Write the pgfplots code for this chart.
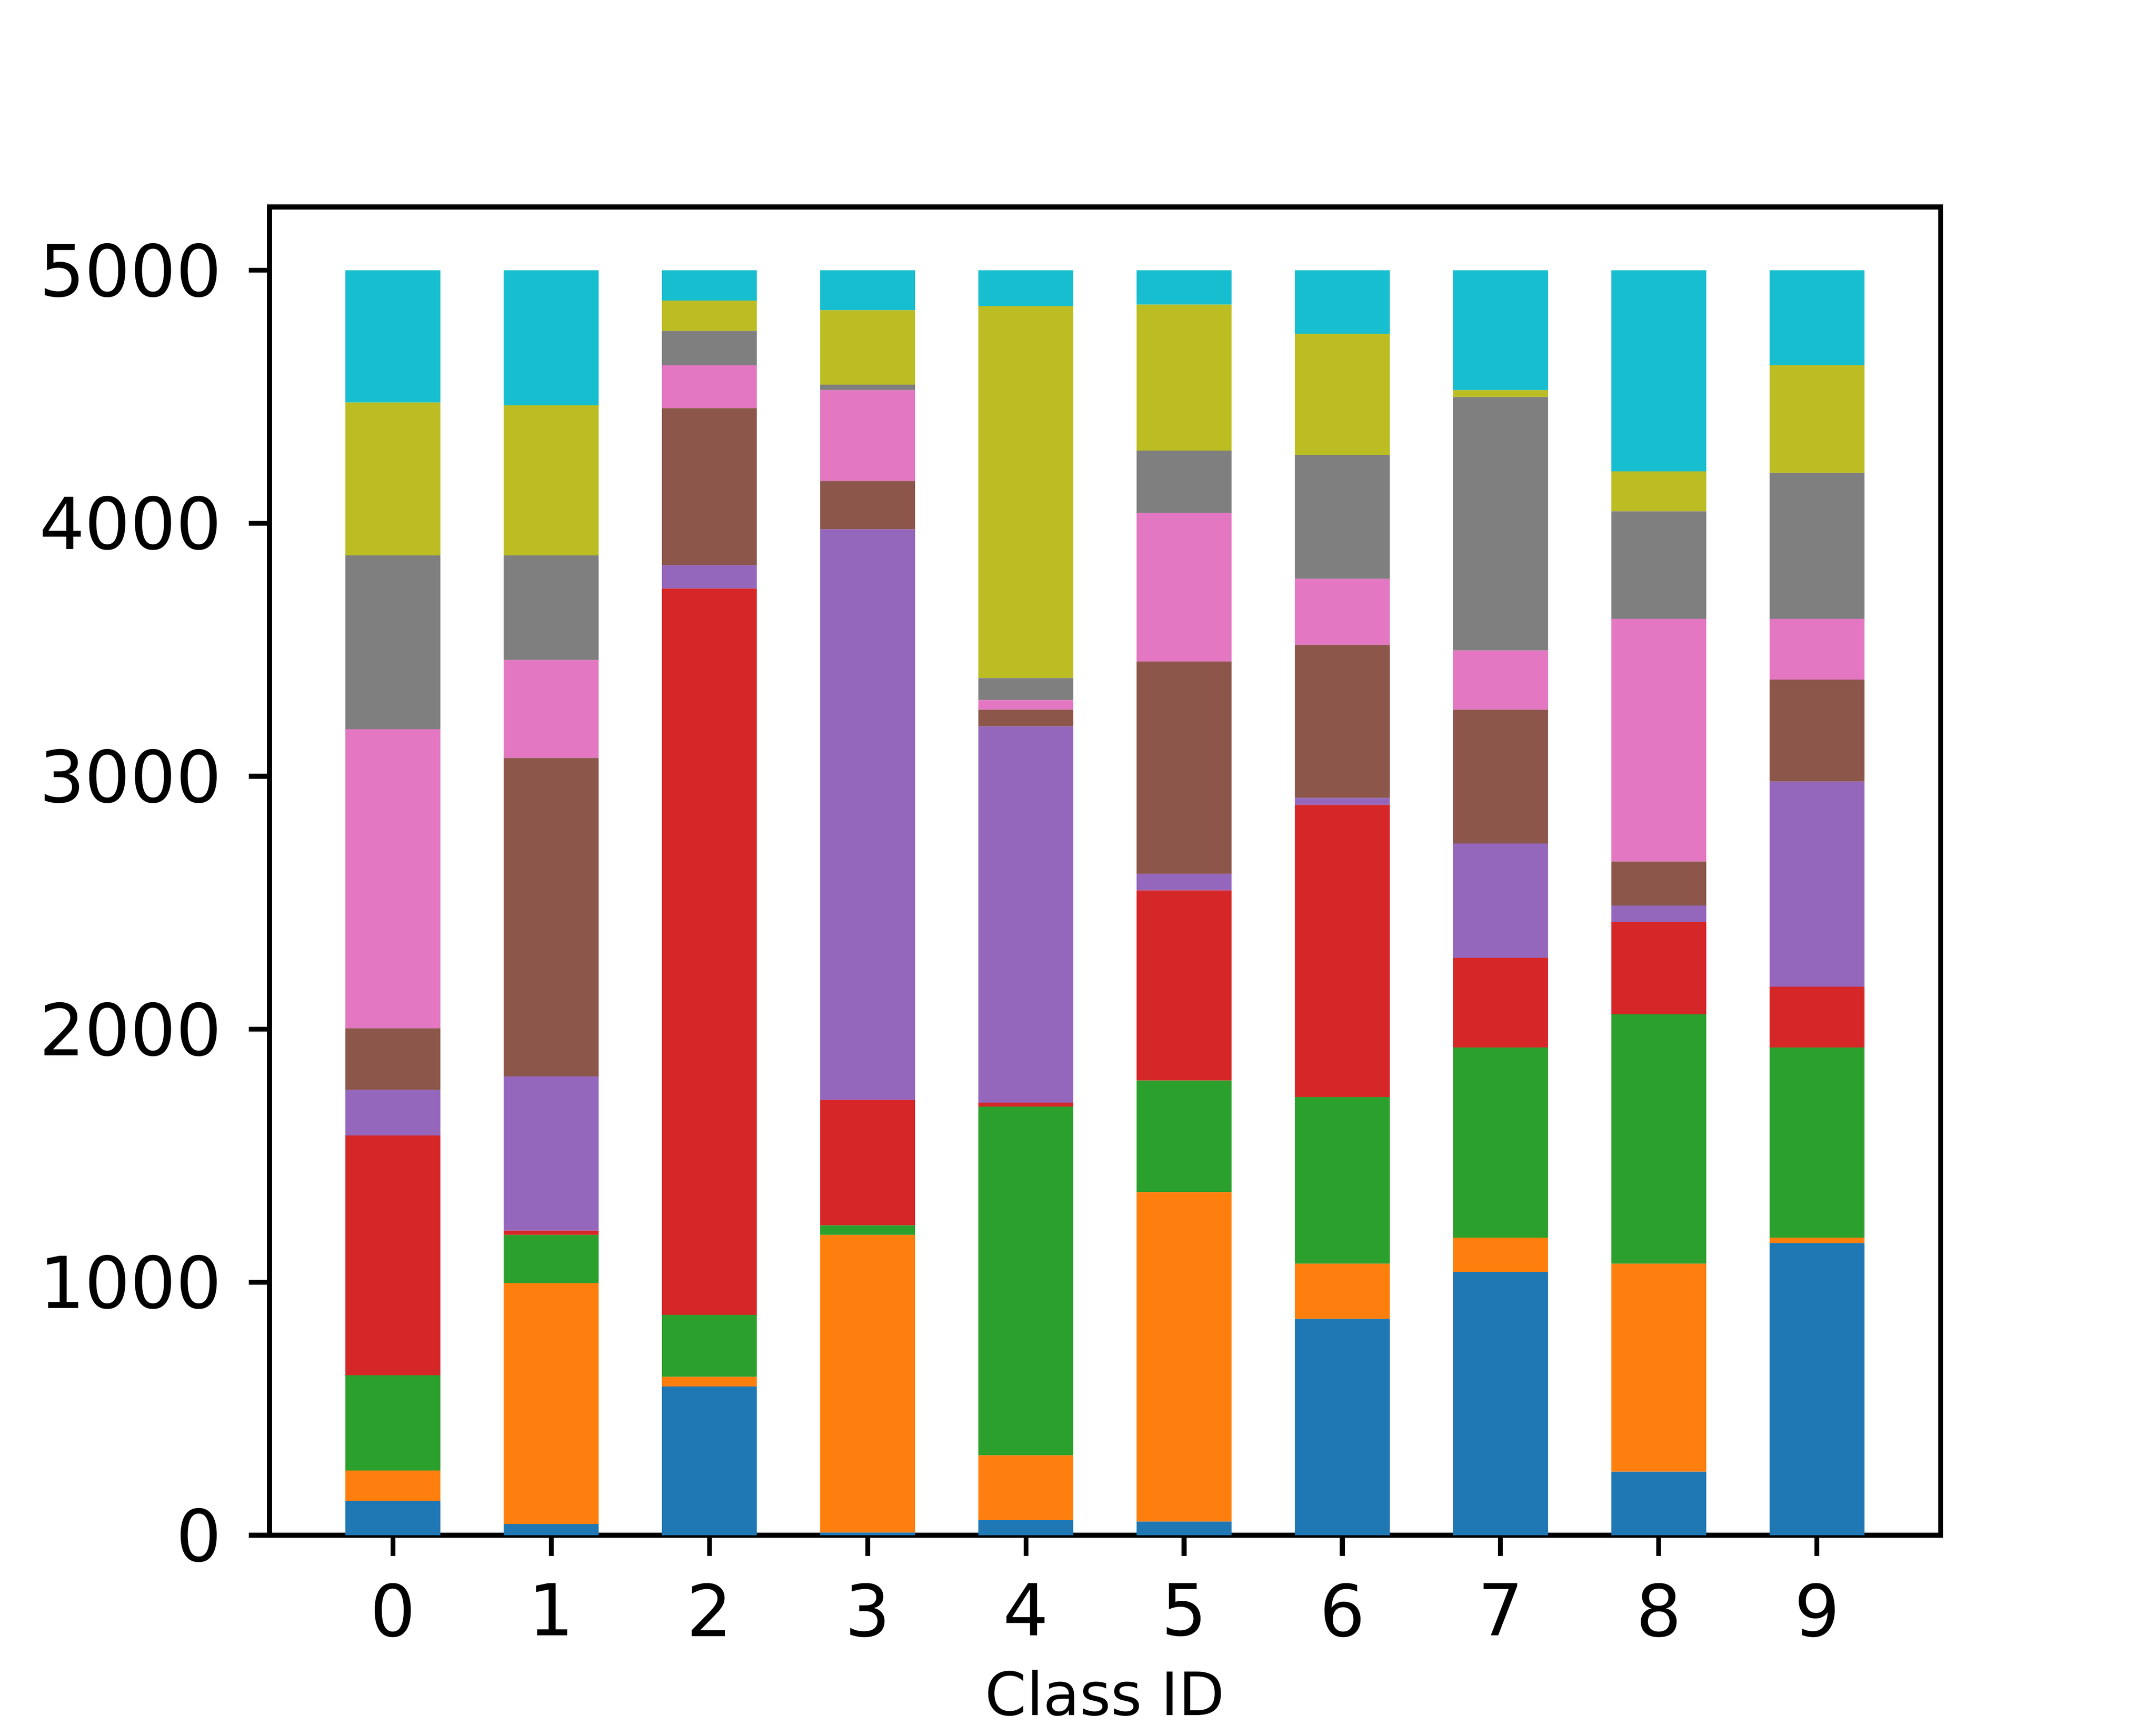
\documentclass[border=0pt]{standalone}
\usepackage{pgfplots}
\pgfplotsset{compat=1.18}
\usepackage{pgfplotstable}
\usepackage{fontspec}
\setmainfont{DejaVu Sans}
\definecolor{c0}{HTML}{1F77B4}
\definecolor{c1}{HTML}{FF7F0E}
\definecolor{c2}{HTML}{2CA02C}
\definecolor{c3}{HTML}{D62728}
\definecolor{c4}{HTML}{9467BD}
\definecolor{c5}{HTML}{8C564B}
\definecolor{c6}{HTML}{E377C2}
\definecolor{c7}{HTML}{7F7F7F}
\definecolor{c8}{HTML}{BCBD22}
\definecolor{c9}{HTML}{17BECF}
\pgfplotstableread{
x s0 s1 s2 s3 s4 s5 s6 s7 s8 s9
0 136 120 376 948 180 244 1182 687 604 523
1 44 953 190 17 610 1258 387 414 593 534
2 588 38 245 2871 92 621 169 136 120 120
3 11 1176 38 496 2255 191 359 22 294 158
4 60 256 1378 16 1487 66 38 87 1470 142
5 54 1302 441 752 65 839 588 246 577 136
6 855 218 659 1155 27 605 261 490 479 251
7 1040 136 752 354 452 529 234 1002 27 474
8 251 822 986 365 65 174 959 425 158 795
9 1155 21 752 240 811 403 240 577 425 376
}\data
\begin{document}
\begin{tikzpicture}
\path[use as bounding box] (0,0) rectangle (5in,4in);
\begin{axis}[
  at={(0.625in,0.44in)}, anchor=south west,
  width=3.875in, height=3.08in, scale only axis,
  ybar stacked, bar width=0.6, bar shift=0pt,
  xmin=-0.78, xmax=9.78, ymin=0, ymax=5250,
  enlargelimits=false,
  xtick={0,1,2,3,4,5,6,7,8,9},
  ytick={0,1000,2000,3000,4000,5000},
  scaled y ticks=false,
  /pgf/number format/assume math mode=true,
  /pgf/number format/set thousands separator={},
  tick label style={font=\fontsize{12}{14}\selectfont},
  label style={font=\fontsize{10}{12}\selectfont},
  xlabel={Class ID},
  tick align=outside, major tick length=3.5pt,
  xtick pos=bottom, ytick pos=left,
  tick style={black, line width=0.8pt},
  axis line style={line width=0.8pt},
  xticklabel style={yshift=-1pt},
  yticklabel style={xshift=-1pt},
  xlabel style={yshift=1.4pt},
]
\addplot[fill=c0, draw=none] table[x=x,y=s0]{\data};
\addplot[fill=c1, draw=none] table[x=x,y=s1]{\data};
\addplot[fill=c2, draw=none] table[x=x,y=s2]{\data};
\addplot[fill=c3, draw=none] table[x=x,y=s3]{\data};
\addplot[fill=c4, draw=none] table[x=x,y=s4]{\data};
\addplot[fill=c5, draw=none] table[x=x,y=s5]{\data};
\addplot[fill=c6, draw=none] table[x=x,y=s6]{\data};
\addplot[fill=c7, draw=none] table[x=x,y=s7]{\data};
\addplot[fill=c8, draw=none] table[x=x,y=s8]{\data};
\addplot[fill=c9, draw=none] table[x=x,y=s9]{\data};
\end{axis}
\end{tikzpicture}
\end{document}
